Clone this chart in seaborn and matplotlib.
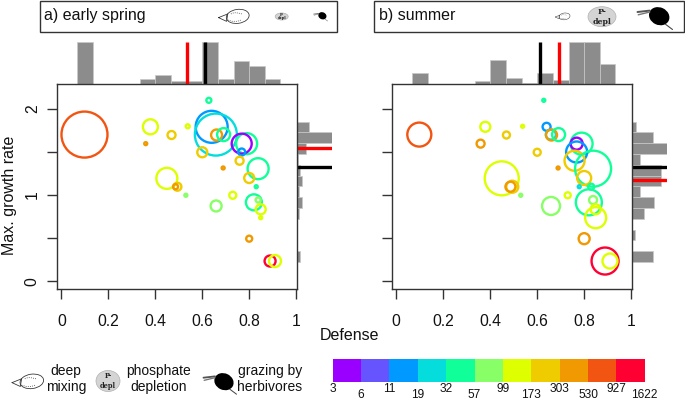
import numpy as np
import pandas as pd
import matplotlib
matplotlib.use('Agg')
import matplotlib.pyplot as plt
from matplotlib.colors import ListedColormap
from matplotlib.patches import Ellipse, Rectangle
import seaborn as sns

# --- DATA ---
defense = [0.098, 0.379, 0.469, 0.359, 0.538, 0.628, 0.640, 0.658, 0.661, 0.691, 0.600,
           0.789, 0.768, 0.768, 0.759, 0.838, 0.689, 0.800, 0.449, 0.494, 0.486,
           0.830, 0.779, 0.530, 0.730, 0.659, 0.820, 0.838, 0.849, 0.849, 0.800, 0.889, 0.910]
growth = [1.70, 1.79, 1.695, 1.595, 1.796, 2.097, 1.79, 1.70, 1.695, 1.70, 1.495,
          1.595, 1.595, 1.498, 1.397, 1.305, 1.313, 1.197, 1.193, 1.096, 1.096,
          1.096, 1.096, 0.997, 0.997, 0.873, 0.915, 0.942, 0.834, 0.737, 0.494, 0.235, 0.235]
size_class = ['530', '99', '173', '303', '99', '32', '11', '19', '303', '32', '173',
              '32', '3', '11', '173', '32', '303', '173', '99', '173', '303',
              '32', '19', '57', '99', '57', '32', '57', '99', '99', '303', '927', '99']
# circle diameters (relative biomass), px
biomass_spring = [46, 15, 8, 3, 4, 5, 32, 42, 11, 13, 10,
                  21, 20, 7, 8, 21, 3, 10, 21, 8, 5,
                  3, 0, 3, 7, 11, 16, 5, 10, 3, 6, 11, 12]
biomass_summer = [24, 10, 7, 8, 3, 3, 8, 10, 11, 13, 7,
                  22, 12, 21, 20, 36, 3, 14, 34, 12, 10,
                  6, 3, 3, 6, 18, 26, 8, 10, 21, 11, 27, 15]

class_labels = ['3', '6', '11', '19', '32', '57', '99', '173', '303', '530', '927']
class_edges = ['3', '6', '11', '19', '32', '57', '99', '173', '303', '530', '927', '1622']
class_colors = ['#9900FF', '#6655FF', '#0099FF', '#05DDDD', '#11FF99', '#88FF66',
                '#DDFF00', '#EFCC00', '#F09900', '#F25511', '#FF0033']

top_edges = list(np.arange(16) / 15)
top_spring = [0, 1.0, 0, 0, 0, 0.13, 0.226, 0.08, 0.07, 1.0, 0.12, 0.556, 0.42, 0.13, 0]
top_summer = [0, 0.27, 0, 0, 0, 0.08, 0.56, 0.14, 0.03, 0.27, 0.10, 1.0, 1.0, 0.47, 0]

side_edges = list(0.1 + 0.125 * np.arange(15))
side_spring = [0, 0.08, 0, 0, 0, 0.05, 0.12, 0.04, 0.14, 0.08, 0.02, 0.24, 1.0, 0.32]
side_summer = [0, 0.58, 0, 0.08, 0, 0.32, 0.61, 0.21, 0.82, 0.82, 0.22, 1.0, 0.58, 0.11]

mean_lines = {'spring': {'black': (0.611, 1.328), 'red': (0.537, 1.548)},
              'summer': {'black': (0.611, 1.328), 'red': (0.692, 1.174)}}

# --- STYLE ---
W, H = 685, 400
sns.set_style('ticks')
plt.rcParams['font.family'] = ['Liberation Sans', 'DejaVu Sans']
plt.rcParams['axes.edgecolor'] = '#333333'
plt.rcParams['axes.linewidth'] = 1.0
GRAY = '#8C8C8C'
fig = plt.figure(figsize=(W / 100, H / 100), dpi=100)


def px_axes(left, top, right, bottom, **kw):
    return fig.add_axes([left / W, 1 - bottom / H, (right - left) / W, (bottom - top) / H], **kw)


df = pd.DataFrame({'defense': defense, 'growth': growth, 'cls': size_class,
                   'spring': biomass_spring, 'summer': biomass_summer})
palette = dict(zip(class_labels, class_colors))
XLIM = (-0.017, 1.005)
YLIM = (-0.089, 2.286)


def hide_empty(ax):
    # zero-height bins would leave an edge line on the baseline
    for p in ax.patches:
        if p.get_width() == 0 or p.get_height() == 0:
            p.set_visible(False)


def draw_panel(left, right, season, top_h, side_h, show_y):
    ax = px_axes(left, 84, right, 289)
    sub = df[df[season] > 0]
    sizes = ((sub[season].to_numpy() * 0.72) ** 2).astype(float)
    sns.scatterplot(data=sub, x='defense', y='growth', hue='cls', palette=palette,
                    s=sizes, legend=False, ax=ax, linewidth=1.7, clip_on=False)
    pts = ax.collections[-1]
    pts.set_edgecolor(pts.get_facecolor())
    pts.set_facecolor('none')
    ax.set_xlim(XLIM)
    ax.set_ylim(YLIM)
    ax.set_xlabel('')
    ax.set_ylabel('')
    ax.set_xticks([0, 0.2, 0.4, 0.6, 0.8, 1])
    ax.set_xticklabels(['0', '0.2', '0.4', '0.6', '0.8', '1'])
    ax.set_yticks([0, 0.5, 1, 1.5, 2])
    ax.set_yticklabels(['0', '', '1', '', '2'] if show_y else [''] * 5,
                       rotation=90, va='center')
    ax.tick_params(length=7.2, width=1.0, color='#333333', labelsize=11.3,
                   labelcolor='#111111')
    ax.tick_params(axis='x', pad=11)
    ax.tick_params(axis='y', pad=5.5)

    top = px_axes(left, 42, right, 84, sharex=ax)
    centers = (np.array(top_edges[:-1]) + np.array(top_edges[1:])) / 2
    sns.histplot(x=centers, weights=top_h, bins=top_edges, color=GRAY, edgecolor='#C8C8C8',
                 linewidth=0.5, alpha=1, ax=top)
    top.set_ylim(0, 1)
    top.set_axis_off()
    hide_empty(top)

    side = px_axes(right, 84, right + 35, 289, sharey=ax)
    centers = (np.array(side_edges[:-1]) + np.array(side_edges[1:])) / 2
    sns.histplot(y=centers, weights=side_h, bins=side_edges, color=GRAY, edgecolor='#C8C8C8',
                 linewidth=0.5, alpha=1, ax=side)
    side.set_xlim(0, 1)
    side.set_axis_off()
    hide_empty(side)

    for col, (mx, my) in mean_lines[season].items():
        line_col = 'black' if col == 'black' else '#FF0000'
        top.plot([mx, mx], [0, 1], color=line_col, lw=2.4, solid_capstyle='butt')
        side.plot([0, 1], [my, my], color=line_col, lw=2.4, solid_capstyle='butt')
    ax.set_zorder(3)
    return ax


draw_panel(57.5, 297.3, 'spring', top_spring, side_spring, True)
draw_panel(392.3, 632.3, 'summer', top_summer, side_summer, False)

# overlay in pixel coordinates for strips, icons and labels
ov = fig.add_axes([0, 0, 1, 1], zorder=5)
ov.set_xlim(0, W)
ov.set_ylim(H, 0)
ov.set_axis_off()
ov.patch.set_alpha(0)


def draw_mixing(cx, cy, w):
    lw = max(0.35, w / 55)
    ov.add_patch(Ellipse((cx + w * 0.12, cy - w * 0.02), w * 0.74, w * 0.45, angle=-8, fill=False,
                         ec='#333333', lw=lw))
    ov.plot([cx - w * 0.5, cx - w * 0.2, cx - w * 0.24, cx - w * 0.5],
            [cy + w * 0.02, cy - w * 0.1, cy + w * 0.14, cy + w * 0.02], color='#333333', lw=lw)
    ov.plot(cx + w * np.array([-0.1, 0.0, 0.12, 0.25]), cy + w * np.array([-0.1, -0.14, -0.13, -0.1]),
            color='#333333', lw=lw, ls=':')
    ov.plot(cx + w * np.array([-0.2, -0.05, 0.1, 0.22]), cy + w * np.array([0.1, 0.14, 0.14, 0.1]),
            color='#333333', lw=lw, ls=':')


def draw_depl(cx, cy, w, h):
    ov.add_patch(Ellipse((cx, cy), w, h, fc='#D4D4D4', ec='#B0B0B0', lw=0.5))
    fs = w * 0.2
    ov.text(cx, cy - h * 0.25, 'P-', fontsize=fs, fontweight='bold', family='DejaVu Serif',
            ha='center', va='center', color='#222222')
    ov.text(cx, cy + h * 0.25, 'depl', fontsize=fs, fontweight='bold', family='DejaVu Serif',
            ha='center', va='center', color='#222222')


def draw_grazer(cx, cy, w):
    ov.add_patch(Ellipse((cx + w * 0.12, cy + w * 0.02), w * 0.6, w * 0.5, angle=25, fc='black', ec='black', lw=0))
    ov.plot([cx - w * 0.5, cx - w * 0.15], [cy - w * 0.1, cy - w * 0.14], color='#555555', lw=max(0.4, w / 25))
    ov.plot([cx - w * 0.48, cx - w * 0.15], [cy - w * 0.02, cy - w * 0.1], color='#777777', lw=max(0.3, w / 35))
    ov.plot([cx + w * 0.3, cx + w * 0.5], [cy + w * 0.25, cy + w * 0.4], color='#444444', lw=max(0.3, w / 45))


# strips
ov.add_patch(Rectangle((39.7, 1), 297.5, 31, fill=False, ec='#333333', lw=1.0))
ov.add_patch(Rectangle((374.3, 1), 310, 31, fill=False, ec='#333333', lw=1.0))
ov.text(44, 15.5, 'a) early spring', fontsize=11.5, ha='left', va='center', color='#111111')
ov.text(379, 15.5, 'b) summer', fontsize=11.5, ha='left', va='center', color='#111111')
draw_mixing(234, 17, 31)
draw_depl(281.7, 16.5, 13, 7)
draw_grazer(320.7, 15.5, 14)
draw_mixing(562.7, 16.7, 15)
draw_depl(602, 16.7, 28, 20)
draw_grazer(655, 15.5, 35)

# axis titles
ov.text(10, 195, 'Max. growth rate', fontsize=11.5, rotation=90, ha='center', va='center', color='#111111')
ov.text(350, 335, 'Defense', fontsize=11.5, ha='center', va='center', color='#111111')

# bottom legend
draw_mixing(28, 382, 32)
draw_depl(108, 381, 24, 21)
draw_grazer(220, 381, 33)
for cx, line1, line2 in [(66, 'deep', 'mixing'), (159, 'phosphate', 'depletion'), (270, 'grazing by', 'herbivores')]:
    ov.text(cx, 371, line1, fontsize=10, ha='center', va='center', color='#111111')
    ov.text(cx, 387, line2, fontsize=10, ha='center', va='center', color='#111111')

# colour key
key = px_axes(332.7, 359, 644.7, 382)
sns.heatmap(np.arange(len(class_colors))[None, :], cmap=ListedColormap(class_colors), cbar=False,
            xticklabels=False, yticklabels=False, ax=key)
step = (644.7 - 332.7) / len(class_colors)
for i, lab in enumerate(class_edges):
    ov.text(332.7 + i * step, 389.5 if i % 2 == 0 else 394.5, lab, fontsize=8.6,
            ha='center', va='center', color='#111111')

fig.savefig('out.png', dpi=100, facecolor='white')
